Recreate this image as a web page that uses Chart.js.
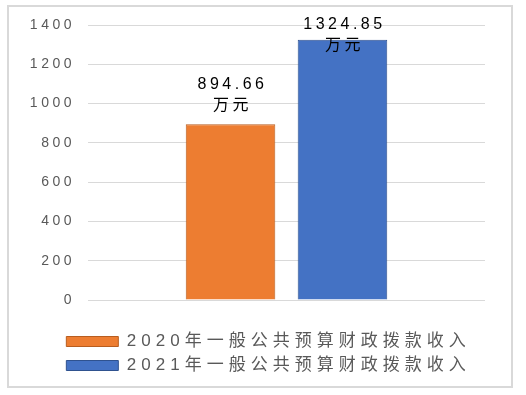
<!DOCTYPE html>
<html>
<head>
<meta charset="utf-8">
<script src="https://cdn.jsdelivr.net/npm/chart.js@4"></script>
<style>
  body { margin: 0; background: #fff; }
  #wrap { position: relative; width: 526px; height: 395px; }
  #frame { position: absolute; left: 7px; top: 5px; width: 502px; height: 379px; border: 2px solid #d9d9d9; pointer-events: none; }
</style>
</head>
<body>
<div id="wrap">
  <canvas id="chart" width="526" height="395"></canvas>
  <div id="frame"></div>
</div>
<script>
// --- data ---
const categories = [''];
const seriesNames = ['2020年一般公共预算财政拨款收入', '2021年一般公共预算财政拨款收入'];
const values2020 = [894.66];
const values2021 = [1324.85];
const valueLabels = ['894.66', '1324.85'];
const unitLabel = '万元';
const yTicks = [0, 200, 400, 600, 800, 1000, 1200, 1400];

const FONT = '"Liberation Sans", "Noto Sans CJK SC", sans-serif';
const SPACING = '3.5px';
const LEGEND_SPACING = '5px';

// canvas letter spacing (gets reset whenever the canvas is resized)
const spacingPlugin = {
    id: 'spacing',
    afterInit(chart) {
        // legend text is spaced a little wider than the rest
        const lg = chart.legend;
        const fit = lg.fit.bind(lg);
        const draw = lg.draw.bind(lg);
        lg.fit = function () {
            const old = chart.ctx.letterSpacing;
            chart.ctx.letterSpacing = LEGEND_SPACING;
            fit();
            chart.ctx.letterSpacing = old;
        };
        lg.draw = function () {
            const old = chart.ctx.letterSpacing;
            chart.ctx.letterSpacing = LEGEND_SPACING;
            draw();
            chart.ctx.letterSpacing = old;
        };
    },
    beforeUpdate(chart) { chart.ctx.letterSpacing = SPACING; },
    beforeLayout(chart) { chart.ctx.letterSpacing = SPACING; },
    afterLayout(chart) {
        // legend sits centred under the frame, a bit lower than the default
        const lg = chart.legend;
        lg.left += 26; lg.right += 26;
        lg.top += 26; lg.bottom += 26;
    },
    beforeDraw(chart) { chart.ctx.letterSpacing = SPACING; }
};

// two-line value labels above the bars
const barLabels = {
    id: 'barLabels',
    afterDatasetsDraw(chart) {
        const ctx = chart.ctx;
        ctx.save();
        ctx.letterSpacing = SPACING;
        ctx.fillStyle = '#000';
        ctx.textAlign = 'center';
        ctx.textBaseline = 'middle';
        ctx.font = '16px ' + FONT;
        chart.data.datasets.forEach((ds, i) => {
            const bar = chart.getDatasetMeta(i).data[0];
            const y = Math.max(bar.y - 40, chart.chartArea.top);
            ctx.fillText(valueLabels[i], bar.x + 2, y);
            ctx.fillText(unitLabel, bar.x + 2, y + 21);
        });
        ctx.restore();
    }
};

new Chart(document.getElementById('chart'), {
    type: 'bar',
    data: {
        labels: categories,
        datasets: [{
            label: seriesNames[0],
            data: values2020,
            backgroundColor: '#ed7d31',
            borderColor: '#b85d1f',
            borderWidth: 1
        }, {
            label: seriesNames[1],
            data: values2021,
            backgroundColor: '#4472c4',
            borderColor: '#2f528f',
            borderWidth: 1
        }]
    },
    options: {
        responsive: false,
        animation: false,
        categoryPercentage: 0.564,
        barPercentage: 0.8,
        layout: { padding: { left: 0, right: 41, top: 25, bottom: 37 } },
        plugins: {
            legend: {
                position: 'bottom',
                labels: {
                    boxWidth: 52,
                    boxHeight: 10,
                    padding: 7,
                    color: '#595959',
                    font: { size: 17, family: FONT }
                }
            },
            tooltip: { enabled: false }
        },
        scales: {
            x: { display: false },
            y: {
                min: 0,
                max: 1400,
                afterFit: axis => { axis.width = 88; },
                afterBuildTicks: axis => { axis.ticks = yTicks.map(v => ({ value: v })); },
                border: { display: false },
                grid: { color: '#d9d9d9', drawTicks: false },
                ticks: {
                    padding: 13,
                    color: '#595959',
                    font: { size: 14, family: FONT },
                    callback: v => String(v)
                }
            }
        }
    },
    plugins: [spacingPlugin, barLabels]
});
</script>
</body>
</html>
